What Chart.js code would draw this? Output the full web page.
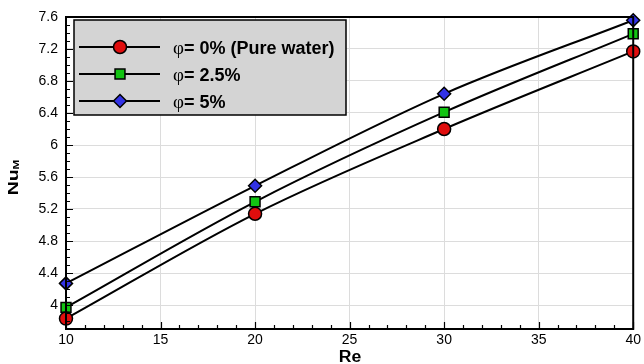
<!DOCTYPE html>
<html>
<head>
<meta charset="utf-8">
<style>
  html, body { margin: 0; padding: 0; background: #fff; }
  #wrap { width: 644px; height: 364px; }
</style>
<script src="https://cdn.jsdelivr.net/npm/chart.js@4/dist/chart.umd.min.js"></script>
</head>
<body>
<div id="wrap"><canvas id="c" width="644" height="364"></canvas></div>
<script>
// Mean Nusselt number versus Reynolds number for three nanofluid volume fractions
const reynolds = [10, 20, 30, 40];
const nuPure = [3.83, 5.14, 6.20, 7.17];
const nu25 = [3.97, 5.29, 6.41, 7.39];
const nu5 = [4.27, 5.49, 6.64, 7.56];
const seriesLabels = ['φ= 0% (Pure water)', 'φ= 2.5%', 'φ= 5%'];
const xTickValues = [10, 15, 20, 25, 30, 35, 40];
const yTickValues = [4, 4.4, 4.8, 5.2, 5.6, 6, 6.4, 6.8, 7.2, 7.6];

const toPoints = ys => reynolds.map((x, i) => ({ x: x, y: ys[i] }));

const seriesStyle = [
  { fill: '#e00d0d', pointStyle: 'circle', radius: 6.5 },
  { fill: '#12c412', pointStyle: 'rect', radius: 7 },
  { fill: '#3232e6', pointStyle: 'rectRot', radius: 6.5 }
];

const datasets = [nuPure, nu25, nu5].map((ys, i) => ({
  label: seriesLabels[i],
  data: toPoints(ys),
  borderColor: '#000',
  borderWidth: 2,
  cubicInterpolationMode: 'monotone',
  pointStyle: seriesStyle[i].pointStyle,
  pointRadius: seriesStyle[i].radius,
  pointHoverRadius: seriesStyle[i].radius,
  pointBackgroundColor: seriesStyle[i].fill,
  pointBorderColor: '#000',
  pointBorderWidth: 1.5,
  clip: false
}));

// Frame with inward major/minor tick marks, drawn over the markers
const framePlugin = {
  id: 'frame',
  afterDatasetsDraw(chart) {
    const { ctx, chartArea: a, scales } = chart;
    const xs = scales.x, ys = scales.y;
    ctx.save();
    ctx.strokeStyle = '#000';
    ctx.lineWidth = 1.2;
    ctx.beginPath();
    for (let v = 10; v <= 40.001; v += 1) {
      const px = Math.round(xs.getPixelForValue(v)) + 0.5;
      const len = (Math.round(v) % 5 === 0) ? 7 : 4;
      ctx.moveTo(px, a.bottom);
      ctx.lineTo(px, a.bottom - len);
    }
    for (let k = 37; k <= 76; k++) {
      const v = k / 10;
      const py = Math.round(ys.getPixelForValue(v)) + 0.5;
      const len = ((k - 36) % 4 === 0) ? 7 : 4;
      ctx.moveTo(a.left, py);
      ctx.lineTo(a.left + len, py);
    }
    ctx.stroke();
    ctx.lineWidth = 2;
    ctx.strokeRect(a.left, a.top, a.right - a.left, a.bottom - a.top);
    ctx.restore();
  }
};

// Legend box and axis titles
const overlayPlugin = {
  id: 'overlay',
  afterDraw(chart) {
    const { ctx } = chart;
    ctx.save();
    // legend
    const bx = 74, by = 20, bw = 272, bh = 95;
    ctx.fillStyle = '#d4d4d4';
    ctx.fillRect(bx, by, bw, bh);
    ctx.strokeStyle = '#000';
    ctx.lineWidth = 1.5;
    ctx.strokeRect(bx, by, bw, bh);
    const rows = [47, 74, 101];
    chart.data.datasets.forEach((ds, i) => {
      const y = rows[i];
      ctx.strokeStyle = '#000';
      ctx.lineWidth = 2;
      ctx.beginPath();
      ctx.moveTo(79, y);
      ctx.lineTo(160, y);
      ctx.stroke();
      ctx.fillStyle = ds.pointBackgroundColor;
      ctx.strokeStyle = '#000';
      ctx.lineWidth = 1.5;
      Chart.helpers.drawPoint(ctx, {
        pointStyle: ds.pointStyle,
        radius: ds.pointRadius,
        rotation: 0,
        borderWidth: 1.5
      }, 120, y);
      const label = ds.label;
      const head = label.charAt(0);
      const rest = label.slice(1);
      ctx.fillStyle = '#000';
      ctx.textBaseline = 'alphabetic';
      ctx.textAlign = 'left';
      ctx.font = '19px "Liberation Serif"';
      ctx.fillText(head, 173, y + 6.5);
      const hw = ctx.measureText(head).width;
      ctx.font = 'bold 18px "Liberation Sans"';
      ctx.fillText(rest, 173 + hw, y + 6.5);
    });
    // x title (slightly wide lettering)
    ctx.save();
    ctx.fillStyle = '#000';
    ctx.font = 'bold 16px "Liberation Sans"';
    ctx.textAlign = 'center';
    ctx.textBaseline = 'alphabetic';
    ctx.translate(350, 362);
    ctx.scale(1.1, 1);
    ctx.fillText('Re', 0, 0);
    ctx.restore();
    // y title with subscript
    ctx.fillStyle = '#000';
    ctx.translate(17.5, 177.5);
    ctx.rotate(-Math.PI / 2);
    ctx.scale(1.3, 1);
    ctx.font = 'bold 15px "Liberation Sans"';
    const w1 = ctx.measureText('Nu').width;
    ctx.font = 'bold 9px "Liberation Sans"';
    const w2 = ctx.measureText('M').width;
    const start = -(w1 + w2) / 2;
    ctx.textAlign = 'left';
    ctx.font = 'bold 15px "Liberation Sans"';
    ctx.fillText('Nu', start, 0);
    ctx.font = 'bold 9px "Liberation Sans"';
    ctx.fillText('M', start + w1, 1);
    ctx.restore();
  }
};

const tickFont = { family: '"Liberation Sans", Arial, sans-serif', size: 14 };

new Chart(document.getElementById('c'), {
  type: 'line',
  data: { datasets: datasets },
  options: {
    responsive: false,
    animation: false,
    events: [],
    layout: { padding: { top: 17, right: 10, left: 0, bottom: 0 } },
    plugins: { legend: { display: false }, tooltip: { enabled: false } },
    scales: {
      x: {
        type: 'linear',
        min: 10,
        max: 40,
        afterBuildTicks: s => { s.ticks = xTickValues.map(v => ({ value: v })); },
        afterFit: s => { s.height = 35; },
        ticks: { font: tickFont, color: '#000', padding: 3, maxRotation: 0, autoSkip: false,
                 callback: v => String(v) },
        grid: { color: '#dcdcdc', lineWidth: 1, drawTicks: false },
        border: { display: false }
      },
      y: {
        type: 'linear',
        min: 3.7,
        max: 7.6,
        afterBuildTicks: s => { s.ticks = yTickValues.map(v => ({ value: v })); },
        afterFit: s => { s.width = 66; },
        ticks: { font: tickFont, color: '#000', padding: 8, autoSkip: false,
                 callback: v => String(Math.round(v * 10) / 10) },
        grid: { color: '#dcdcdc', lineWidth: 1, drawTicks: false },
        border: { display: false }
      }
    }
  },
  plugins: [framePlugin, overlayPlugin]
});
</script>
</body>
</html>
